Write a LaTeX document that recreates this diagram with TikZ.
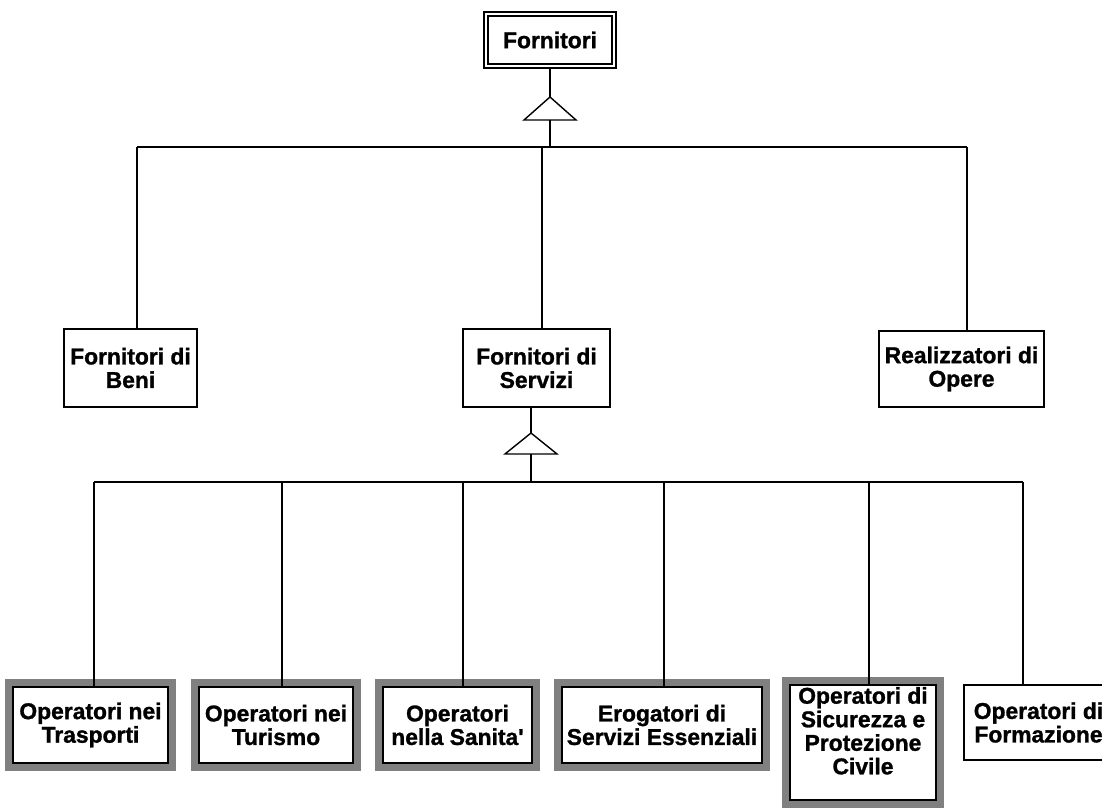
\documentclass[tikz,border=0pt]{standalone}
\usepackage{fontspec}
\setmainfont{Liberation Sans}
\newfontfamily\heavyfont{Liberation Sans Bold}[FakeBold=1.2]
\usepackage{tikz}
\tikzstyle{box}=[draw, thick, fill=white, inner sep=0pt, align=center, font=\heavyfont\fontsize{13}{13.4}\selectfont]
\tikzstyle{boxtop}=[box, double, double distance=1.4pt, line width=1.1pt]
\tikzstyle{boxshade}=[box, line width=1.4pt, line join=miter, preaction={draw=black!50, line width=0.32cm, line join=miter}]
\tikzstyle{link}=[draw=black, thick, line join=miter]

\begin{document}
\begin{tikzpicture}[x=0.02cm, y=-0.02cm]
		   \useasboundingbox (0,0) rectangle (1102,810);
		   \clip (0,0) rectangle (1102,810);
		   \begin{scope}
			   \node (0) at (550, 40)[boxtop, minimum width=2.56cm, minimum height=1.04cm] {Fornitori};
			   \node (1) at (130.5, 368)[box, minimum width=2.66cm, minimum height=1.56cm] {Fornitori di\\Beni};
			   \node (2) at (536.5, 368)[box, minimum width=2.94cm, minimum height=1.56cm] {Fornitori di\\Servizi};
			   \node (3) at (961.5, 369)[box, minimum width=3.3cm, minimum height=1.52cm] {Realizzatori di\\Opere};
			   \node (4) at (90.5, 725)[boxshade, minimum width=3.1cm, minimum height=1.52cm] {Operatori nei\\Trasporti};
			   \node (5) at (276, 725)[boxshade, minimum width=3.08cm, minimum height=1.52cm] {Operatori nei\\Turismo};
			   \node (6) at (457.5, 725)[boxshade, minimum width=2.98cm, minimum height=1.52cm] {Operatori\\nella Sanita\textquotesingle};
			   \node (7) at (662, 725)[boxshade, minimum width=4.0cm, minimum height=1.52cm] {Erogatori di\\Servizi Essenziali};
			   \node (8) at (863, 742.5)[boxshade, minimum width=2.92cm, minimum height=2.3cm] {Operatori di\\Sicurezza e\\Protezione\\Civile\\ \mbox{}};
			   \node (9) at (1038.5, 722.5)[box, minimum width=2.98cm, minimum height=1.5cm] {Operatori di\\Formazione};
		   \end{scope}
		   \begin{scope}
			   \coordinate (t0) at (550, 97);
			   \coordinate (u0) at (550, 120);
			   \coordinate (h0) at (550, 147);
			   \coordinate (h1) at (137, 147);
			   \coordinate (h2) at (542, 147);
			   \coordinate (h3) at (967, 147);
			   \coordinate (t1) at (531, 433);
			   \coordinate (u1) at (531, 454);
			   \coordinate (g0) at (531, 482);
			   \coordinate (g4) at (94, 482);
			   \coordinate (g5) at (282, 482);
			   \coordinate (g6) at (463, 482);
			   \coordinate (g7) at (664, 482);
			   \coordinate (g8) at (869, 482);
			   \coordinate (g9) at (1023, 482);
		   \end{scope}
		   \begin{scope}
			   \draw [link] (t0) -- ++(-26, 23) -- ++(52, 0) -- cycle;
			   \draw [link] (t1) -- ++(-26, 21) -- ++(52, 0) -- cycle;
			   \path [link] (0) edge (t0);
			   \path [link] (u0) edge (h0);
			   \path [link] (h1) edge (h3);
			   \path [link] (h1) edge (h1 |- 1.north);
			   \path [link] (h2) edge (h2 |- 2.north);
			   \path [link] (h3) edge (h3 |- 3.north);
			   \path [link] (t1 |- 2.south) edge (t1);
			   \path [link] (u1) edge (g0);
			   \path [link] (g4) edge (g9);
			   \path [link] (g4) edge (g4 |- 4.north);
			   \path [link] (g5) edge (g5 |- 5.north);
			   \path [link] (g6) edge (g6 |- 6.north);
			   \path [link] (g7) edge (g7 |- 7.north);
			   \path [link] (g8) edge (g8 |- 8.north);
			   \path [link] (g9) edge (g9 |- 9.north);
		   \end{scope}
	   \end{tikzpicture}
\end{document}
